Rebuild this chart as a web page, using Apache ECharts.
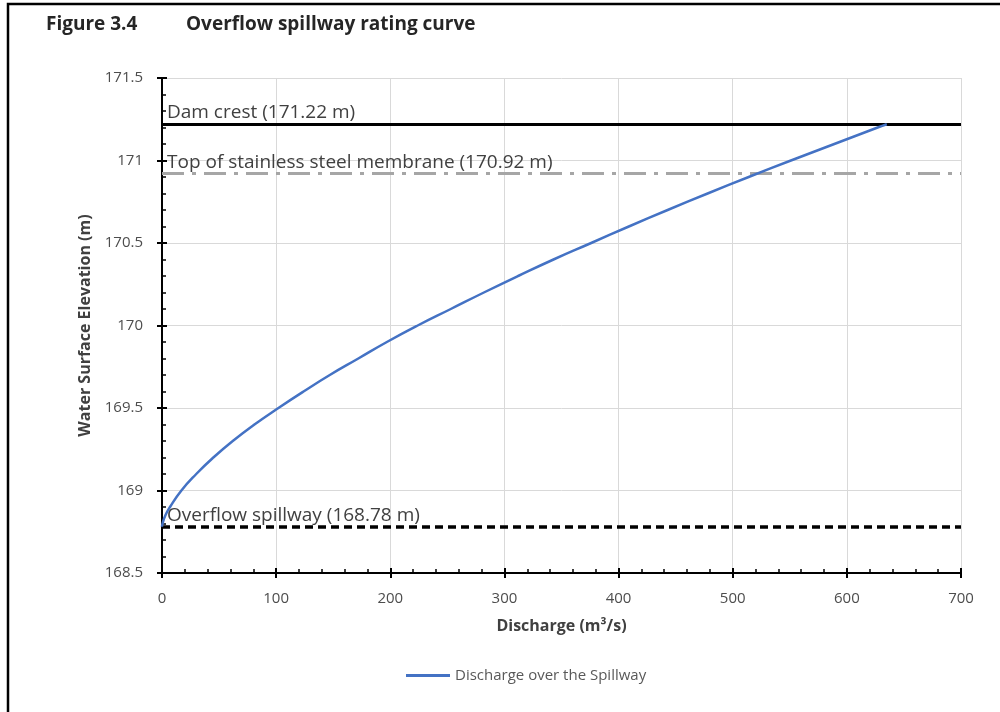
<!DOCTYPE html>
<html>
<head>
<meta charset="utf-8">
<script src="https://cdn.jsdelivr.net/npm/echarts@6/dist/echarts.min.js"></script>
<style>html,body{margin:0;padding:0;background:#fff;}#c{width:1000px;height:712px;}</style>
</head>
<body>
<div id="c"></div>
<script>
// Rating curve
const elevation = [168.78, 168.80, 168.85, 168.90, 169.00, 169.10, 169.20, 169.30, 169.40, 169.50, 169.60, 169.70, 169.80, 169.90, 170.00, 170.10, 170.20, 170.30, 170.40, 170.50, 170.60, 170.70, 170.80, 170.90, 171.00, 171.10, 171.20, 171.22];
const discharge = [0, 0.5, 3, 7, 17, 30, 45, 62, 81, 102, 124, 147, 172, 197, 224, 253, 282, 312, 343, 376, 409, 443, 478, 514, 551, 589, 627, 635];
// Reference levels
const levelValues = [171.22, 170.92, 168.78];
const levelLabels = ['Dam crest (171.22 m)', 'Top of stainless steel membrane (170.92 m)', 'Overflow spillway (168.78 m)'];
// Axes
const xTicks = [0, 700, 100];
const yTicks = [168.5, 171.5, 0.5];
const seriesName = 'Discharge over the Spillway';

const levelStyles = [
  {color: '#000000', width: 3, type: 'solid'},
  {color: '#a6a6a6', width: 3, type: [22, 8, 4, 8]},
  {color: '#000000', width: 3.5, type: [8, 5]}
];

const FONT = '"Open Sans", "Noto Sans", sans-serif';
const chart = echarts.init(document.getElementById('c'), null, {renderer: 'canvas'});

const baseAxisLine = {show: true, lineStyle: {color: '#000', width: 2}};

const option = {
  animation: false,
  backgroundColor: '#fff',
  textStyle: {fontFamily: FONT},
  grid: {left: 162, right: 39, top: 78, bottom: 139, containLabel: false},
  graphic: [
    {type: 'rect', shape: {x: 8, y: 4, width: 1000, height: 720}, style: {fill: 'none', stroke: '#000', lineWidth: 2.5}, silent: true},
    {type: 'text', left: 46, top: 15, style: {text: 'Figure 3.4', font: 'bold 19px ' + FONT, fill: '#262626'}},
    {type: 'text', left: 186, top: 15, style: {text: 'Overflow spillway rating curve', font: 'bold 19px ' + FONT, fill: '#262626'}}
  ],
  legend: {
    show: true,
    bottom: 24,
    left: 401,
    data: [{name: seriesName, icon: 'rect'}],
    itemWidth: 44,
    itemHeight: 3,
    itemGap: 2,
    textStyle: {color: '#595959', fontSize: 15, fontFamily: FONT}
  },
  xAxis: [
    {
      type: 'value', min: xTicks[0], max: xTicks[1], interval: xTicks[2],
      position: 'bottom',
      name: 'Discharge (m³/s)', nameLocation: 'middle', nameGap: 45,
      nameTextStyle: {fontWeight: 'bold', fontSize: 16, color: '#404040', fontFamily: FONT},
      axisLine: baseAxisLine,
      axisTick: {show: true, inside: true, length: 5, lineStyle: {color: '#000', width: 2}},
      minorTick: {show: true, splitNumber: 5, length: 4, lineStyle: {color: '#000', width: 1.5}},
      axisLabel: {color: '#4d4d4d', fontSize: 15, margin: 18, fontFamily: FONT},
      splitLine: {show: true, lineStyle: {color: '#d9d9d9', width: 1}},
      minorSplitLine: {show: false}
    },
    {
      type: 'value', min: xTicks[0], max: xTicks[1], interval: xTicks[2],
      position: 'bottom',
      axisLine: {show: false},
      axisTick: {show: true, inside: false, length: 5, lineStyle: {color: '#000', width: 2}},
      axisLabel: {show: false},
      splitLine: {show: false}
    }
  ],
  yAxis: [
    {
      type: 'value', min: yTicks[0], max: yTicks[1], interval: yTicks[2],
      position: 'left',
      name: 'Water Surface Elevation (m)', nameLocation: 'middle', nameGap: 64,
      nameRotate: 90,
      nameTextStyle: {fontWeight: 'bold', fontSize: 16, color: '#404040', fontFamily: FONT},
      axisLine: baseAxisLine,
      axisTick: {show: true, inside: true, length: 5, lineStyle: {color: '#000', width: 2}},
      minorTick: {show: true, splitNumber: 5, length: 4, lineStyle: {color: '#000', width: 1.5}},
      axisLabel: {color: '#4d4d4d', fontSize: 15, margin: 19, fontFamily: FONT},
      splitLine: {show: true, lineStyle: {color: '#d9d9d9', width: 1}},
      minorSplitLine: {show: false}
    },
    {
      type: 'value', min: yTicks[0], max: yTicks[1], interval: yTicks[2],
      position: 'left',
      axisLine: {show: false},
      axisTick: {show: true, inside: false, length: 5, lineStyle: {color: '#000', width: 2}},
      axisLabel: {show: false},
      splitLine: {show: false}
    }
  ],
  series: [
    {
      name: seriesName,
      type: 'line',
      xAxisIndex: 0, yAxisIndex: 0,
      data: discharge.map((q, i) => [q, elevation[i]]),
      showSymbol: false,
      symbol: 'none',
      smooth: true,
      lineStyle: {color: '#4472c4', width: 2.5},
      itemStyle: {color: '#4472c4'},
      z: 5,
      markLine: {
        silent: true,
        symbol: ['none', 'none'],
        animation: false,
        z: 3,
        data: levelValues.map((v, i) => ({
          yAxis: v,
          lineStyle: levelStyles[i],
          label: {
            show: true,
            position: 'insideStartTop',
            formatter: levelLabels[i],
            color: '#404040',
            fontSize: 19,
            fontFamily: FONT,
            distance: [5, 2]
          }
        }))
      }
    }
  ]
};
chart.setOption(option);
</script>
</body>
</html>
